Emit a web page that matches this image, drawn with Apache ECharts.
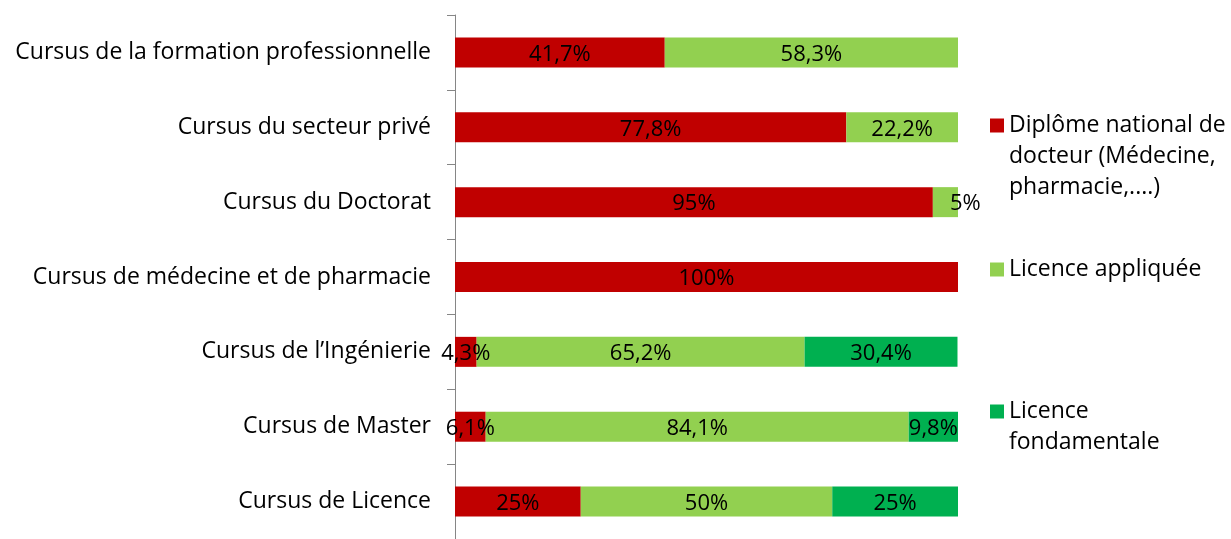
<!DOCTYPE html>
<html><head><meta charset="utf-8">
<script src="https://cdn.jsdelivr.net/npm/echarts@6/dist/echarts.min.js"></script>
<style>html,body{margin:0;padding:0;background:#fff}#c{width:1231px;height:539px}</style>
</head><body><div id="c"></div>
<script>
const categories = [
  "Cursus de la formation professionnelle",
  "Cursus du secteur privé",
  "Cursus du Doctorat",
  "Cursus de médecine et de pharmacie",
  "Cursus de l’Ingénierie",
  "Cursus de Master",
  "Cursus de Licence"
];
const seriesNames = [
  "Diplôme national de\ndocteur (Médecine,\npharmacie,....)",
  "Licence appliquée",
  "Licence\nfondamentale"
];
const diplomeNational = [41.7, 77.8, 95, 100, 4.3, 6.1, 25];
const licenceAppliquee = [58.3, 22.2, 5, 0, 65.2, 84.1, 50];
const licenceFondamentale = [0, 0, 0, 0, 30.4, 9.8, 25];
const colors = ["#C00000", "#92D050", "#00B050"];

const FONT = "Open Sans";
const FS = 23;
const fmt = p => p.value ? (String(p.value).replace('.', ',') + '%') : '';
function mk(name, data, color) {
  return {
    name, type: 'bar', stack: 'all', barWidth: 30,
    // tiny end segments get their label pushed just past the bar end, as in the reference
    data: data.map((v, i) => (v > 0 && v < 5.5 && i < 3) ? { value: v, label: { position: 'right', distance: -8 } } : v),
    itemStyle: { color },
    label: { show: true, position: 'inside', formatter: fmt, color: '#000', fontFamily: FONT, fontSize: 22, offset: [0, 2] }
  };
}
const chart = echarts.init(document.getElementById('c'));
const ts = { fontFamily: FONT, fontSize: FS, color: '#000', lineHeight: 31 };
const legendBase = { orient: 'vertical', left: 990, itemWidth: 14, itemHeight: 14, icon: 'rect', selectedMode: false, padding: 0, textStyle: ts };
chart.setOption({
  animation: false,
  grid: { left: 455, right: 273, top: 15, bottom: 0 },
  xAxis: { type: 'value', min: 0, max: 100, show: false },
  yAxis: {
    type: 'category', inverse: true, data: categories,
    axisLine: { lineStyle: { color: '#868686', width: 1 } },
    axisTick: { show: true, length: 8, lineStyle: { color: '#868686' } },
    axisLabel: { margin: 24, color: '#000', fontFamily: FONT, fontSize: FS, padding: [4, 0, 0, 0] }
  },
  legend: [
    Object.assign({}, legendBase, { top: 48, data: [seriesNames[0]], formatter: n => '\n\n' + n }),
    Object.assign({}, legendBase, { top: 254, data: [seriesNames[1]] }),
    Object.assign({}, legendBase, { top: 365, data: [seriesNames[2]], formatter: n => '\n' + n })
  ],
  series: [
    mk(seriesNames[0], diplomeNational, colors[0]),
    mk(seriesNames[1], licenceAppliquee, colors[1]),
    mk(seriesNames[2], licenceFondamentale, colors[2])
  ]
});
</script></body></html>
